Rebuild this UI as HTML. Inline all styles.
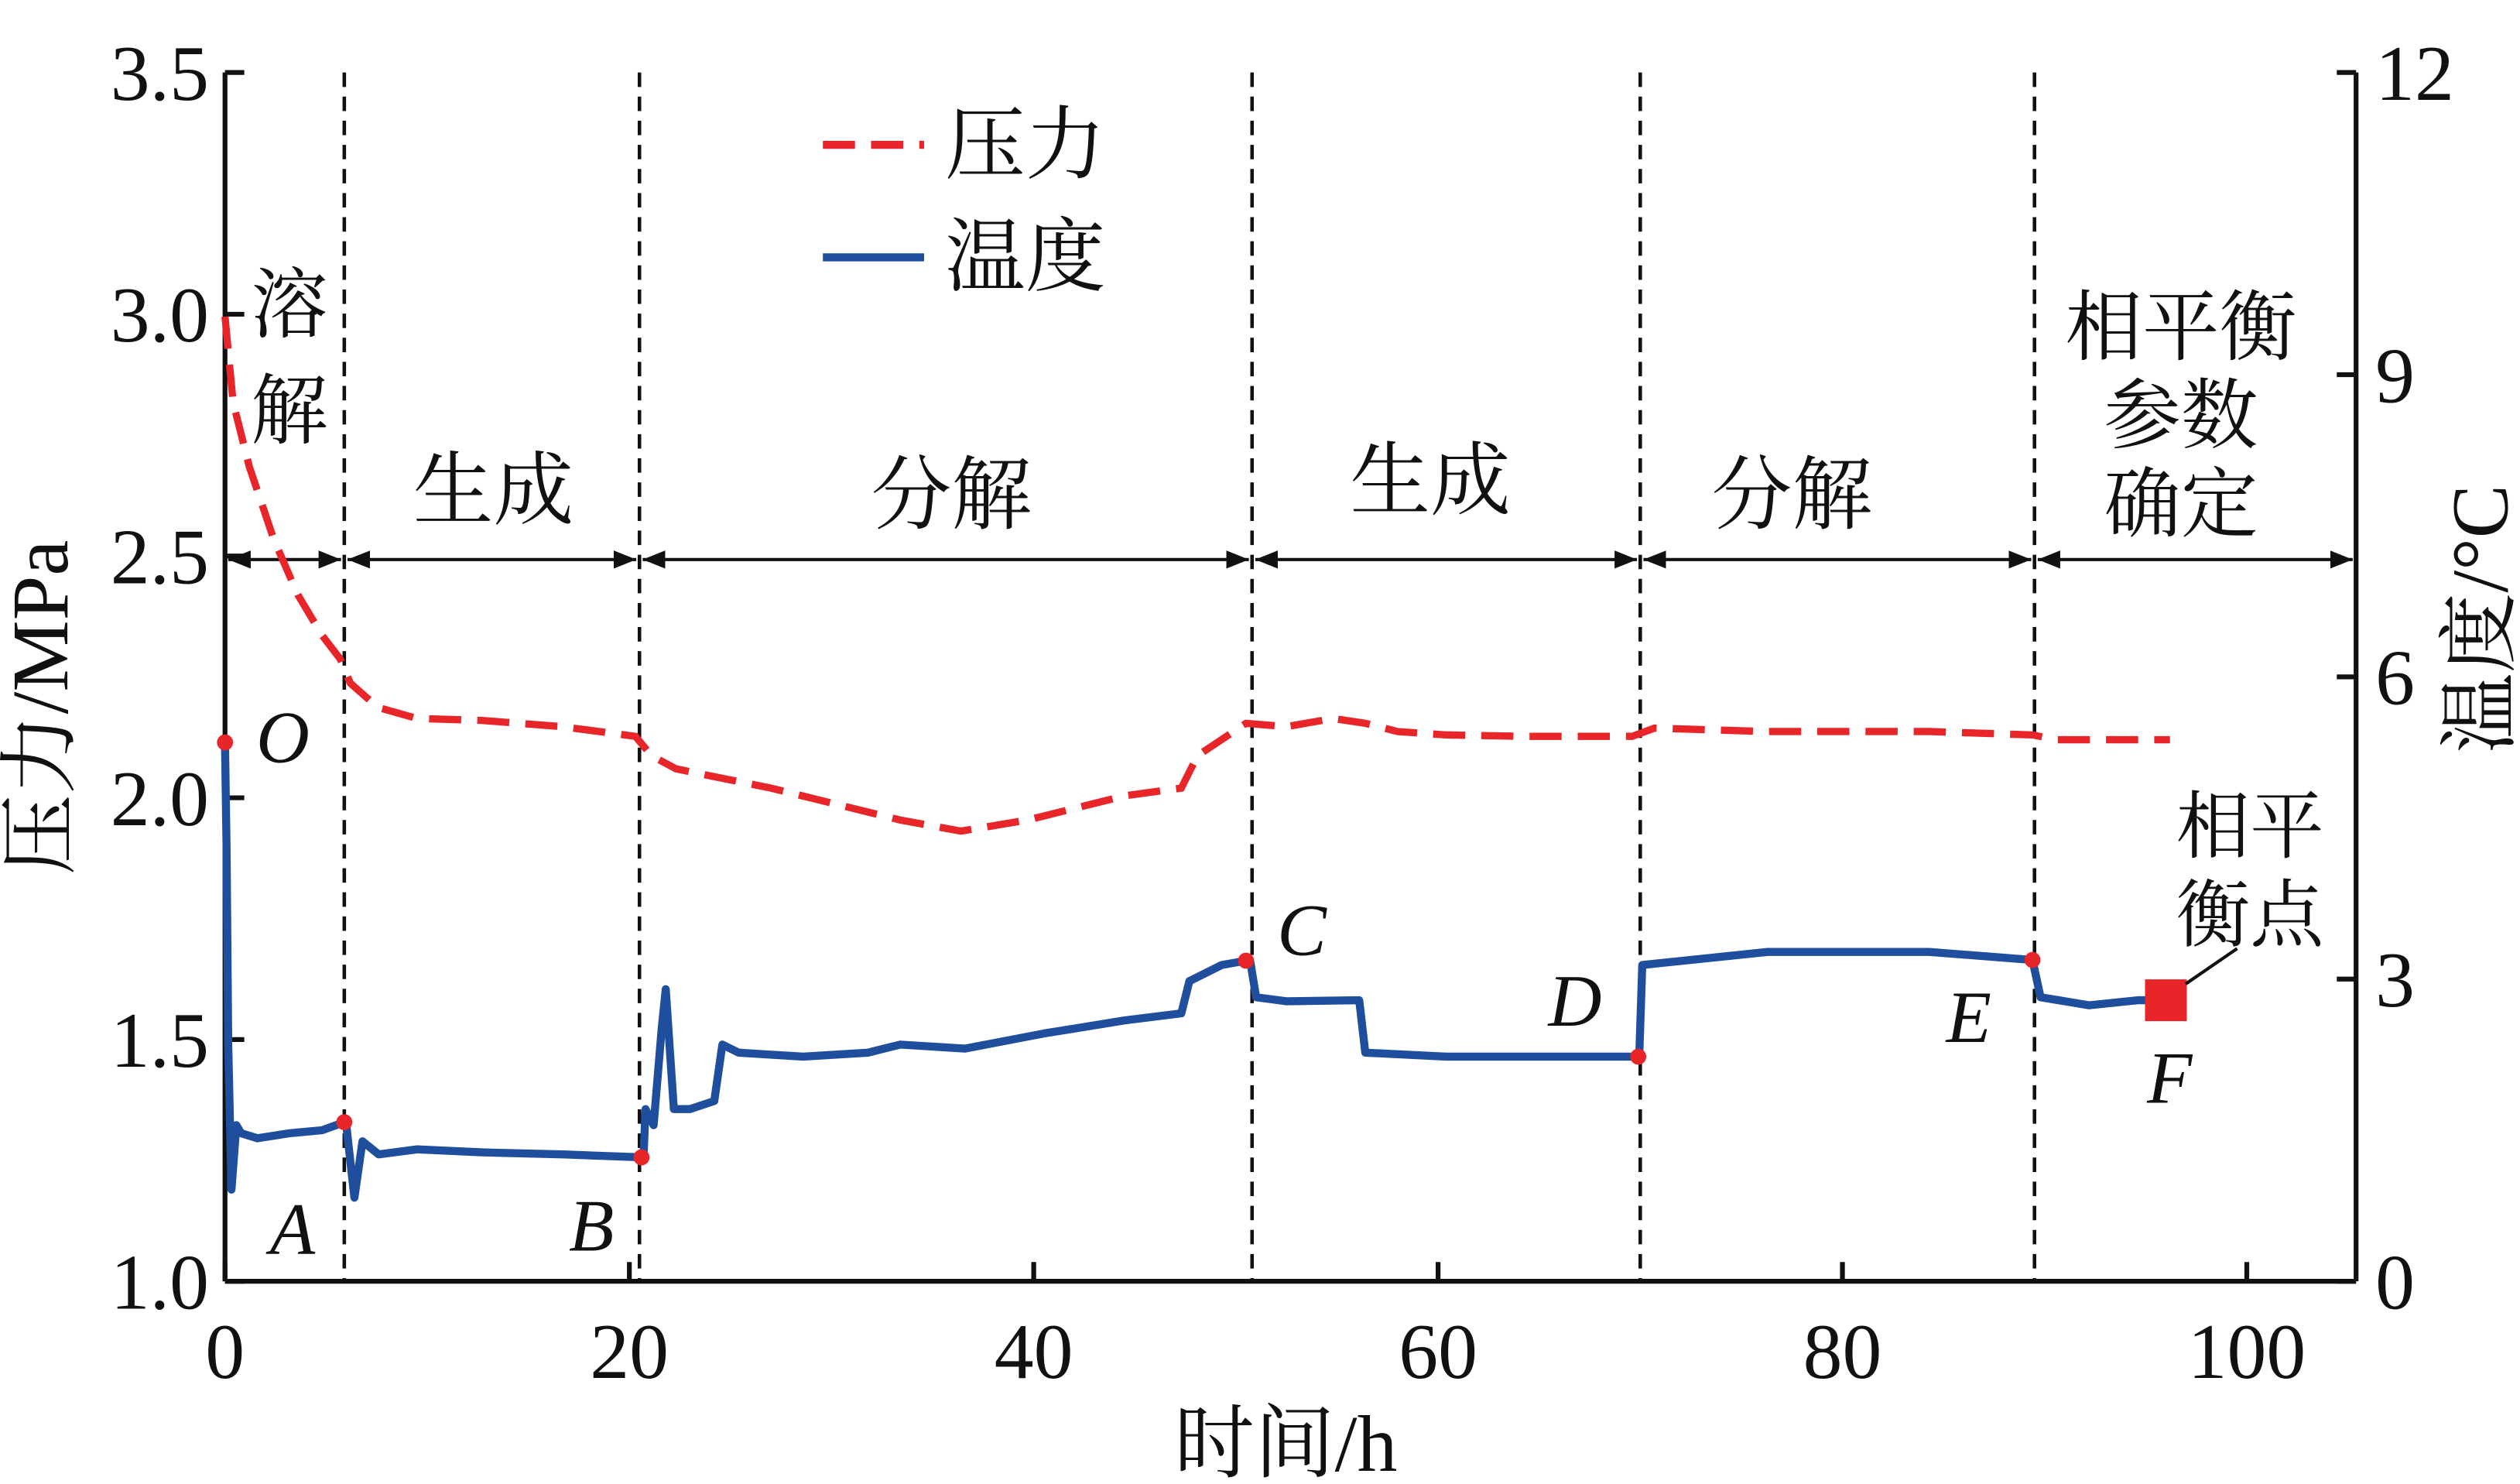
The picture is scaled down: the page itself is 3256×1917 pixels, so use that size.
<!DOCTYPE html>
<html><head><meta charset="utf-8"><style>
html,body{margin:0;padding:0;background:#fff;}
svg{display:block;}
text{font-family:"Liberation Serif","Noto Serif CJK SC",serif;fill:#111;}
</style></head><body>
<svg id="chart" width="3256" height="1917" viewBox="0 0 1568 923" xmlns="http://www.w3.org/2000/svg">
<g id="axes"></g>
<g id="series"></g>
<g id="annot"></g>
</svg>
<script>
const xTicks=[0,20,40,60,80,100];
const pTicks=["1.0","1.5","2.0","2.5","3.0","3.5"];
const tTicks=[0,3,6,9,12];
const pTime=[0,0.4,1.2,2.4,3.6,4.8,5.7,6.2,7.55,9.5,12.7,16.7,20.3,21.1,22.3,23.8,27,30.2,33.4,36.4,39.7,44.5,47.3,48.1,50.5,52.5,54.8,56.4,58,60.4,64.4,69.6,70.7,76.3,84.3,89.4,90.6,96.2];
const pVal=[2.995,2.818,2.685,2.536,2.42,2.336,2.287,2.237,2.187,2.164,2.16,2.147,2.127,2.087,2.06,2.047,2.02,1.987,1.954,1.931,1.954,2.004,2.02,2.087,2.154,2.147,2.164,2.154,2.137,2.13,2.127,2.127,2.144,2.137,2.137,2.13,2.12,2.12];
const tTime=[0,0.08,0.16,0.32,0.56,0.8,1.6,3.2,4.8,5.9,6.0,6.4,6.8,7.6,9.5,12.7,16.7,20.7,20.8,21.2,21.6,21.8,22.2,23.0,24.2,24.6,25.4,28.6,31.8,33.4,36.6,40.5,44.5,47.3,47.7,49.3,50.7,51.0,52.5,56.1,56.4,60.4,66.8,69.4,69.95,70.1,76.3,84.3,89.4,89.8,92.2,94.6,95.8];
const tVal=[5.35,4.26,2.35,0.91,1.55,1.47,1.42,1.47,1.5,1.58,1.55,0.83,1.39,1.26,1.31,1.28,1.26,1.23,1.71,1.55,2.51,2.9,1.71,1.71,1.79,2.35,2.27,2.23,2.27,2.35,2.31,2.46,2.59,2.66,2.98,3.14,3.19,2.82,2.78,2.79,2.27,2.23,2.23,2.23,2.23,3.14,3.27,3.27,3.19,2.82,2.74,2.79,2.79];
const dotTime=[0,5.9,20.6,50.5,69.9,89.4];
const phaseBounds=[0,5.9,20.5,50.8,70,89.5,105.4];

const NS="http://www.w3.org/2000/svg";
const X0=140,X1=1466,Y0=797,Y1=45;
const sx=t=>X0+t*(1398-140)/100;
const sp=p=>Y0-(p-1)*(Y0-Y1)/2.5;
const st=c=>Y0-c*(Y0-Y1)/12;
function mk(tag,attrs,parent,txt){const e=document.createElementNS(NS,tag);for(const k in attrs)e.setAttribute(k,attrs[k]);if(txt!==undefined)e.textContent=txt;parent.appendChild(e);return e;}
const axes=document.getElementById('axes'),ser=document.getElementById('series'),an=document.getElementById('annot');

let e;
e=mk('line',{x1:X0,y1:Y1,x2:X0,y2:Y0,stroke:'#111','stroke-width':3},axes);


e=mk('line',{x1:X0,y1:Y0,x2:X1,y2:Y0,stroke:'#111','stroke-width':3},axes);


e=mk('line',{x1:X1,y1:Y1,x2:X1,y2:Y0,stroke:'#111','stroke-width':3},axes);



xTicks.forEach(v=>{const x=sx(v);mk('line',{x1:x,y1:Y0,x2:x,y2:Y0-12,stroke:'#111','stroke-width':3},axes);
e=mk('text',{x:x,y:857,'text-anchor':'middle','font-size':49},axes,String(v));

});
pTicks.forEach(v=>{const y=sp(parseFloat(v));mk('line',{x1:X0,y1:y,x2:X0+12,y2:y,stroke:'#111','stroke-width':3},axes);
e=mk('text',{x:130,y:y+17,'text-anchor':'end','font-size':49},axes,v);

});
tTicks.forEach(v=>{const y=st(v);mk('line',{x1:X1,y1:y,x2:X1-12,y2:y,stroke:'#111','stroke-width':3},axes);
e=mk('text',{x:1478,y:y+17,'text-anchor':'start','font-size':49},axes,String(v));

});

e=mk('text',{x:0,y:0,'text-anchor':'middle','font-size':50,transform:'translate(42,440) rotate(-90)'},axes,'压力/MPa');


e=mk('text',{x:0,y:0,'text-anchor':'middle','font-size':50,transform:'translate(1560,385) rotate(-90)'},axes,'温度/°C');


e=mk('text',{x:800,y:915,'text-anchor':'middle','font-size':50},axes,'时间/h');



mk('defs',{},axes).innerHTML='<marker id="ar" viewBox="0 0 10 10" refX="10" refY="5" markerWidth="7" markerHeight="7" orient="auto-start-reverse"><path d="M0,1L10,5L0,9z" fill="#111"/></marker>';
phaseBounds.forEach((b,i)=>{if(i>0&&i<phaseBounds.length-1){e=mk('line',{x1:sx(b),y1:Y1,x2:sx(b),y2:Y0,stroke:'#111','stroke-width':2.2,'stroke-dasharray':'9,6'},axes);

}
if(i<phaseBounds.length-1){e=mk('line',{x1:sx(b)+2,y1:348,x2:Math.min(sx(phaseBounds[i+1]),X1)-2,y2:348,stroke:'#111','stroke-width':2,'marker-start':'url(#ar)','marker-end':'url(#ar)'},axes);

}});

e=mk('polyline',{points:pTime.map((t,i)=>sx(t)+','+sp(pVal[i])).join(' '),fill:'none',stroke:'#e8262a','stroke-width':4.5,'stroke-dasharray':'20,10'},ser);


e=mk('polyline',{points:tTime.map((t,i)=>sx(t)+','+st(tVal[i])).join(' '),fill:'none',stroke:'#1f4e9c','stroke-width':5,'stroke-linejoin':'round'},ser);


function interp(t){for(let i=1;i<tTime.length;i++){if(tTime[i]>=t){const a=tTime[i-1],b=tTime[i];const f=b===a?0:(t-a)/(b-a);return tVal[i-1]+f*(tVal[i]-tVal[i-1]);}}return tVal[tVal.length-1];}
dotTime.forEach(t=>{e=mk('circle',{cx:sx(t),cy:st(interp(t)),r:5,fill:'#e8262a'},ser);

});
e=mk('rect',{x:sx(96)-13,y:st(2.79)-13,width:26,height:26,fill:'#e8262a'},ser);



e=mk('line',{x1:512,y1:90,x2:575,y2:90,stroke:'#e8262a','stroke-width':5,'stroke-dasharray':'20,10'},an);


e=mk('text',{x:588,y:107,'font-size':50},an,'压力');


e=mk('line',{x1:512,y1:160,x2:575,y2:160,stroke:'#1f4e9c','stroke-width':5},an);


e=mk('text',{x:588,y:177,'font-size':50},an,'温度');



const labels=[["溶",180,206,48,'phase-label'],["解",180,272,48,'phase-label'],["生成",307,322,50,'phase-label'],["分解",592,325,50,'phase-label'],["生成",890,316,50,'phase-label'],["分解",1115,325,50,'phase-label'],["相平衡",1357,220,48,'phase-label'],["参数",1357,275,48,'phase-label'],["确定",1357,330,48,'phase-label'],["相平",1400,530,46,'equilibrium-label'],["衡点",1400,585,46,'equilibrium-label']];
labels.forEach(l=>{e=mk('text',{x:l[1],y:l[2],'text-anchor':'middle','font-size':l[3]},an,l[0]);

});
const pts=[["O",176,474],["A",182,780],["B",368,778],["C",810,594],["D",980,638],["E",1225,648],["F",1350,686]];
pts.forEach(p=>{e=mk('text',{x:p[1],y:p[2],'text-anchor':'middle','font-size':46,'font-style':'italic'},an,p[0]);

});
e=mk('line',{x1:1360,y1:612,x2:1392,y2:590,stroke:'#111','stroke-width':2},an);


</script>
</body></html>
